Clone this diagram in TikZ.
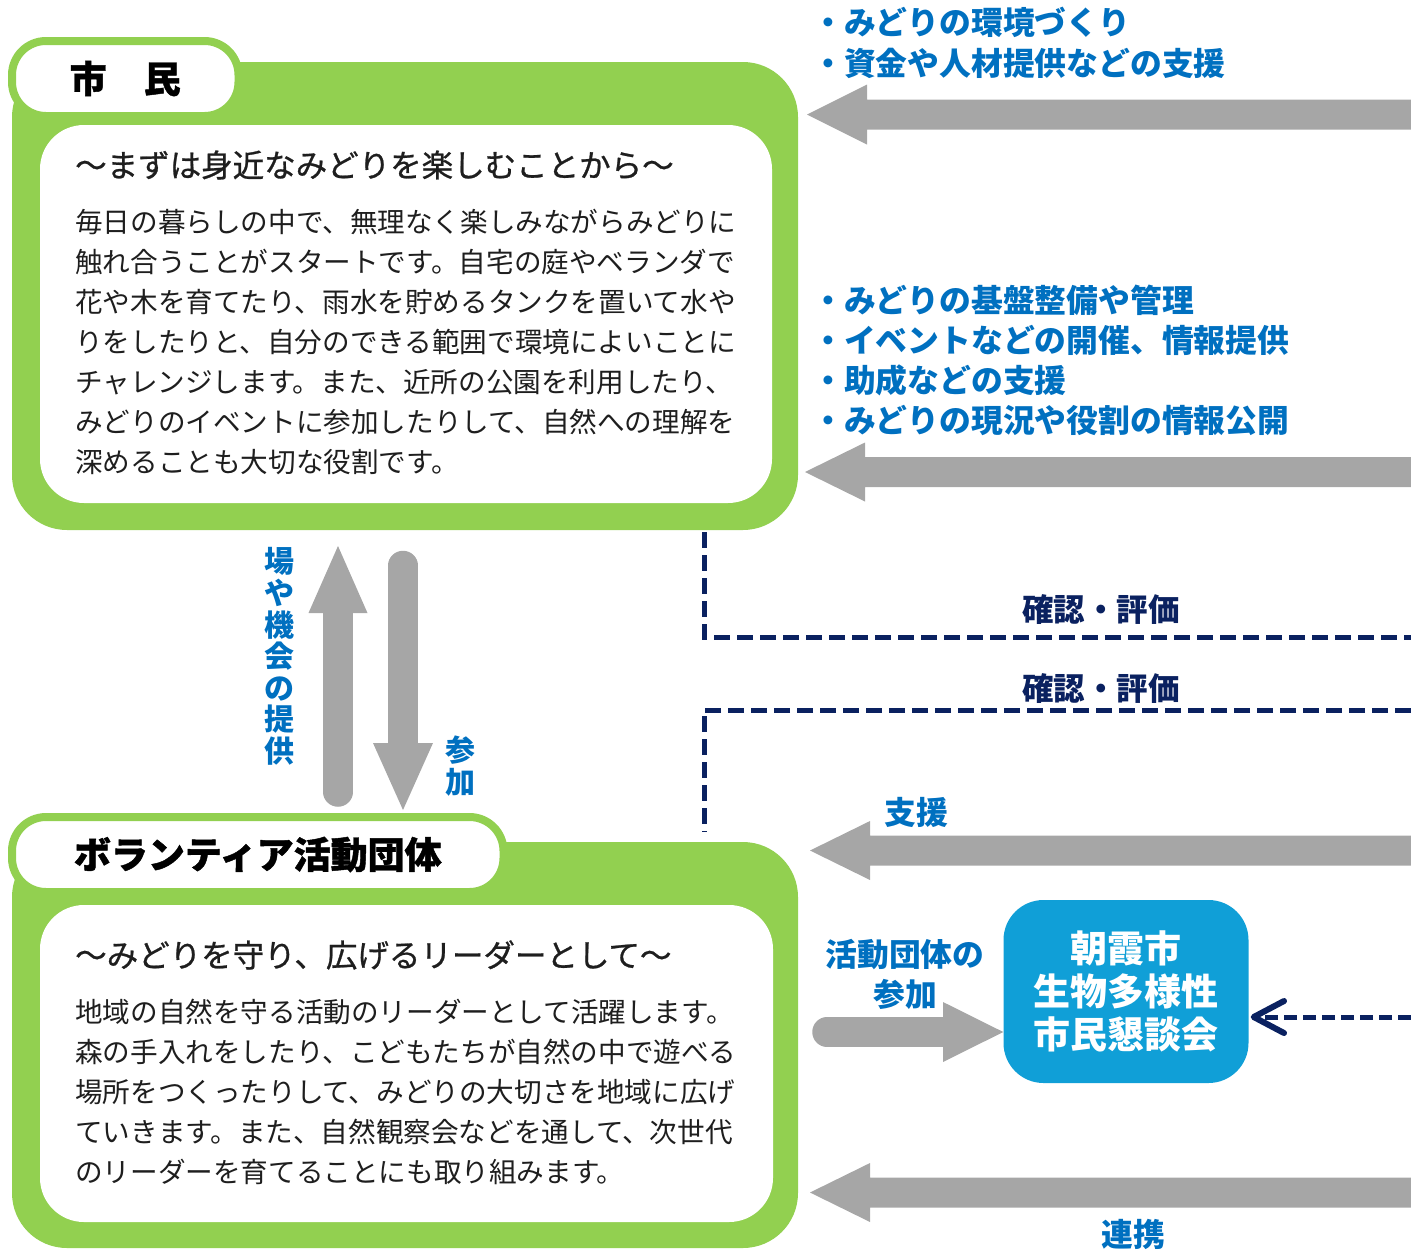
\documentclass[tikz,border=0pt]{standalone}
\usepackage{fontspec}
\setmainfont{Noto Sans CJK JP}
\newfontfamily\jpmed[FakeBold=0.8]{Noto Sans CJK JP}
\newfontfamily\jpheavy[FakeBold=1.2]{Noto Sans CJK JP Bold}
\usetikzlibrary{arrows.meta}
\definecolor{grn}{HTML}{92D050}
\definecolor{arrgray}{HTML}{A6A6A6}
\definecolor{bluetxt}{HTML}{0070C0}
\definecolor{navy}{HTML}{0A2160}
\definecolor{boxblue}{HTML}{109FD7}
\definecolor{bodytxt}{HTML}{1E1E1E}
\begin{document}
\begin{tikzpicture}[x=1pt,y=-1pt,
  panel/.style={fill=grn, rounded corners=55pt, inner sep=0pt},
  whitebox/.style={fill=white, rounded corners=44pt, inner sep=0pt},
  tabbox/.style={draw=grn, line width=8pt, fill=white, rounded corners=34pt, inner sep=0pt,
    font=\fontsize{37}{40}\selectfont\bfseries, text=black},
  titletxt/.style={font=\fontsize{31.5}{40}\selectfont\jpmed, text=bodytxt, inner sep=0pt, anchor=west},
  bodytext/.style={font=\fontsize{27.6}{40}\selectfont, text=bodytxt, inner sep=0pt, align=left, anchor=west},
  blab/.style={font=\fontsize{31.8}{40}\selectfont\bfseries, text=bluetxt, inner sep=0pt},
  nlab/.style={font=\fontsize{31.5}{40}\selectfont\bfseries, text=navy, inner sep=0pt},
  vlab/.style={font=\fontsize{30}{31.6}\selectfont\bfseries, text=bluetxt, inner sep=0pt, align=center},
  arrfill/.style={fill=arrgray},
  shaft/.style={draw=arrgray, line width=29.5pt, line cap=round},
  dashnavy/.style={draw=navy, line width=5pt, dash pattern=on 16pt off 7pt},
  kondan/.style={fill=boxblue, rounded corners=40pt, inner sep=0pt, text=white,
    font=\fontsize{37}{43}\selectfont\bfseries, align=center}
]
\useasboundingbox (0,0) rectangle (1411,1251);

% ---------- 市民 panel ----------
\node[panel, minimum width=786pt, minimum height=468pt] (shiminPanel) at (405,296) {};
\node[tabbox, minimum width=226.5pt, minimum height=75pt] (shiminTab) at (125.25,78.5) {\jpheavy 市　民};
\node[whitebox, minimum width=732pt, minimum height=378pt] (shiminBox) at (406,314) {};
\node[titletxt] (shiminTitle) at (75,165) {～まずは身近なみどりを楽しむことから～};
\node[bodytext] (shiminBody) at (75,342) {毎日の暮らしの中で、無理なく楽しみながらみどりに\\
触れ合うことがスタートです。自宅の庭やベランダで\\
花や木を育てたり、雨水を貯めるタンクを置いて水や\\
りをしたりと、自分のできる範囲で環境によいことに\\
チャレンジします。また、近所の公園を利用したり、\\
みどりのイベントに参加したりして、自然への理解を\\
深めることも大切な役割です。};

% ---------- ボランティア panel ----------
\node[panel, minimum width=786pt, minimum height=406pt] (volPanel) at (405,1045) {};
\node[tabbox, minimum width=491.5pt, minimum height=75pt] (volTab) at (257.75,854.5) {\jpheavy ボランティア活動団体};
\node[whitebox, minimum width=733pt, minimum height=317pt] (volBox) at (406.5,1063.5) {};
\node[titletxt] (volTitle) at (75,955) {～みどりを守り、広げるリーダーとして～};
\node[bodytext] (volBody) at (75,1092) {地域の自然を守る活動のリーダーとして活躍します。\\
森の手入れをしたり、こどもたちが自然の中で遊べる\\
場所をつくったりして、みどりの大切さを地域に広げ\\
ていきます。また、自然観察会などを通して、次世代\\
のリーダーを育てることにも取り組みます。};

% ---------- vertical arrows ----------
\draw[shaft] (338,792) -- (338,615);
\fill[arrfill] (338,546) -- (367.5,613) -- (308.5,613) -- cycle;
\draw[shaft] (403,565.5) -- (403,745);
\fill[arrfill] (403,810) -- (433,743) -- (373,743) -- cycle;
\node[vlab] (lbTeikyo) at (279,656.5) {場\\や\\機\\会\\の\\提\\供};
\node[vlab] (lbSanka) at (460,766) {参\\加};

% ---------- long arrows from the right ----------
\fill[arrfill] (807,114.5) -- (867,84.5) -- (867,99.5) -- (1411,99.5) -- (1411,129.5) -- (867,129.5) -- (867,144.5) -- cycle;
\fill[arrfill] (805,472) -- (865,442.5) -- (865,457) -- (1411,457) -- (1411,487) -- (865,487) -- (865,501.5) -- cycle;
\fill[arrfill] (810,850.5) -- (870,821) -- (870,835.5) -- (1411,835.5) -- (1411,865.5) -- (870,865.5) -- (870,880) -- cycle;
\fill[arrfill] (810,1192.5) -- (870,1163) -- (870,1177.5) -- (1411,1177.5) -- (1411,1207.5) -- (870,1207.5) -- (870,1222) -- cycle;

% ---------- labels right ----------
\node[blab, anchor=west] (lA1) at (812,22) {・みどりの環境づくり};
\node[blab, anchor=west] (lA2) at (812,63) {・資金や人材提供などの支援};
\node[blab, anchor=west] (lB1) at (812,300) {・みどりの基盤整備や管理};
\node[blab, anchor=west] (lB2) at (812,340) {・イベントなどの開催、情報提供};
\node[blab, anchor=west] (lB3) at (812,380) {・助成などの支援};
\node[blab, anchor=west] (lB4) at (812,420) {・みどりの現況や役割の情報公開};
\node[blab] (lShien) at (916.5,812) {支援};
\node[blab] (lRenkei) at (1133,1234) {連携};
\node[blab, align=center, font=\fontsize{31.8}{40}\selectfont\bfseries] (lKatsudo) at (905,974.5) {活動団体の\\参加};

% ---------- dashed check lines ----------
\coordinate (d1a) at (704,532);
\coordinate (d1b) at (704,637);
\coordinate (d1c) at (1411,637);
\coordinate (d2a) at (1411,710);
\coordinate (d2b) at (704,710);
\coordinate (d2c) at (704,832);
\draw[dashnavy] (d1a) -- (d1b) -- (d1c);
\draw[dashnavy] (d2a) -- (d2b) -- (d2c);
\node[nlab] (lKakunin1) at (1101,610) {確認・評価};
\node[nlab] (lKakunin2) at (1101,689) {確認・評価};

% ---------- 懇談会 box ----------
\node[kondan, minimum width=245pt, minimum height=183pt] (kondan) at (1126,991.5) {朝霞市\\生物多様性\\市民懇談会};

% small arrow into box
\coordinate (sStart) at (827,1032);
\draw[shaft] (sStart) -- (945,1032);
\fill[arrfill] (kondan.west |- sStart) -- (943,1002) -- (943,1062) -- cycle;

% dashed arrow into box
\coordinate (dEnd) at (1411,1017);
\draw[draw=navy, line width=5pt, dash pattern=on 13pt off 6pt] (dEnd) -- (1260,1017);
\draw[draw=navy, line width=6pt, line cap=round, line join=round] (1284,1001) -- ([xshift=5pt]kondan.east |- dEnd) -- (1284,1033);
\end{tikzpicture}
\end{document}
